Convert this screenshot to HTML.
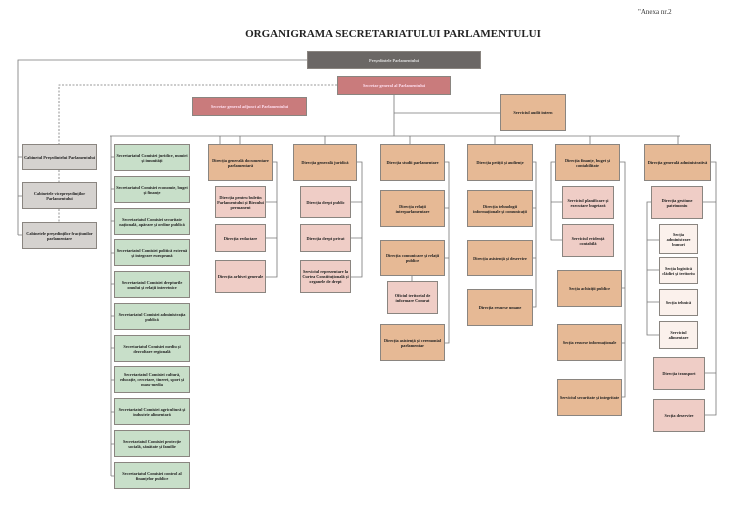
<!DOCTYPE html>
<html><head><meta charset="utf-8"><style>
body{margin:0;width:750px;height:505px;background:#fff;position:relative;overflow:hidden;font-family:"Liberation Serif",serif}
.b{position:absolute;box-sizing:border-box;border:1px solid #8a8580;display:flex;align-items:center;justify-content:center;text-align:center;font-size:4.3px;line-height:5px;color:#222;font-weight:bold;padding:1px}
.o{background:#e6b995}.p{background:#efcdc6}.l{background:#fbf1ec}.g{background:#c8dfc9}.y{background:#d5d2cf}.r{background:#c97b7c;color:#fde}
svg{position:absolute;left:0;top:0}
</style></head><body>
<div style="position:absolute;left:638px;top:8px;font-size:7px;color:#333">"Anexa nr.2</div>
<div style="position:absolute;left:0;width:786px;top:28px;text-align:center;font-size:11px;font-weight:bold;color:#222">ORGANIGRAMA SECRETARIATULUI PARLAMENTULUI</div>
<svg width="750" height="505" stroke="#777" stroke-width="0.8" fill="none">
<path d="M307 60H18V235M18 157H22M18 196H22M18 235H22"/>
<path d="M337 85H59V144M59 170V182M59 209V222" stroke-dasharray="2,1.5"/>
<path d="M394 95V136M394 113H500M110 136H680M111 136V476"/>
<path d="M111 157H114M111 189H114M111 221H114M111 253H114M111 284H114M111 316H114M111 348H114M111 380H114M111 412H114M111 444H114M111 476H114"/>
<path d="M240 136V144M325 136V144M410 136V144M495 136V144M590 136V144M678 136V144M220 136V144"/>
<path d="M273 162H277V277H266M277 202H266M277 238H266"/>
<path d="M357 162H362V277H351M362 202H351M362 238H351"/>
<path d="M445 162H449V343H445M449 208H445M449 258H445M412 276V281"/>
<path d="M533 162H536V307H533M536 208H533M536 258H533"/>
<path d="M555 162H551V240H562M551 202H562M620 162H625V397H620M625 288H620M625 343H620"/>
<path d="M711 162H716V415H705M716 373H705M716 202H703M651 202H647V335H659M647 240H659M647 270H659M647 302H659"/>
</svg>
<div class="b" style="left:307px;top:51px;width:174px;height:18px;background:#6b6765;color:#ddd">Președintele Parlamentului</div>
<div class="b r" style="left:337px;top:76px;width:114px;height:19px">Secretar general al Parlamentului</div>
<div class="b r" style="left:192px;top:97px;width:115px;height:19px">Secretar general adjunct al Parlamentului</div>
<div class="b o" style="left:500px;top:94px;width:66px;height:37px">Serviciul audit intern</div>

<div class="b y" style="left:22px;top:144px;width:75px;height:26px">Cabinetul Președintelui Parlamentului</div>
<div class="b y" style="left:22px;top:182px;width:75px;height:27px">Cabinetele vicepreședinților Parlamentului</div>
<div class="b y" style="left:22px;top:222px;width:75px;height:27px">Cabinetele președinților fracțiunilor parlamentare</div>

<div class="b g" style="left:114px;top:144px;width:76px;height:27px">Secretariatul Comisiei juridice, numiri și imunități</div>
<div class="b g" style="left:114px;top:176px;width:76px;height:27px">Secretariatul Comisiei economie, buget și finanțe</div>
<div class="b g" style="left:114px;top:208px;width:76px;height:27px">Secretariatul Comisiei securitate națională, apărare și ordine publică</div>
<div class="b g" style="left:114px;top:239px;width:76px;height:27px">Secretariatul Comisiei politică externă și integrare europeană</div>
<div class="b g" style="left:114px;top:271px;width:76px;height:27px">Secretariatul Comisiei drepturile omului și relații interetnice</div>
<div class="b g" style="left:114px;top:303px;width:76px;height:27px">Secretariatul Comisiei administrația publică</div>
<div class="b g" style="left:114px;top:335px;width:76px;height:27px">Secretariatul Comisiei mediu și dezvoltare regională</div>
<div class="b g" style="left:114px;top:366px;width:76px;height:27px">Secretariatul Comisiei cultură, educație, cercetare, tineret, sport și mass-media</div>
<div class="b g" style="left:114px;top:398px;width:76px;height:27px">Secretariatul Comisiei agricultură și industrie alimentară</div>
<div class="b g" style="left:114px;top:430px;width:76px;height:27px">Secretariatul Comisiei protecție socială, sănătate și familie</div>
<div class="b g" style="left:114px;top:462px;width:76px;height:27px">Secretariatul Comisiei control al finanțelor publice</div>

<div class="b o" style="left:208px;top:144px;width:65px;height:37px">Direcția generală documentare parlamentară</div>
<div class="b p" style="left:215px;top:186px;width:51px;height:32px">Direcția pentru buletin Parlamentului și Biroului permanent</div>
<div class="b p" style="left:215px;top:224px;width:51px;height:28px">Direcția redactare</div>
<div class="b p" style="left:215px;top:260px;width:51px;height:33px">Direcția arhivei generale</div>

<div class="b o" style="left:293px;top:144px;width:64px;height:37px">Direcția generală juridică</div>
<div class="b p" style="left:300px;top:186px;width:51px;height:32px">Direcția drept public</div>
<div class="b p" style="left:300px;top:224px;width:51px;height:28px">Direcția drept privat</div>
<div class="b p" style="left:300px;top:260px;width:51px;height:33px">Serviciul reprezentare la Curtea Constituțională și organele de drept</div>

<div class="b o" style="left:380px;top:144px;width:65px;height:37px">Direcția studii parlamentare</div>
<div class="b o" style="left:380px;top:190px;width:65px;height:37px">Direcția relații interparlamentare</div>
<div class="b o" style="left:380px;top:240px;width:65px;height:36px">Direcția comunicare și relații publice</div>
<div class="b p" style="left:387px;top:281px;width:51px;height:33px">Oficiul teritorial de informare Comrat</div>
<div class="b o" style="left:380px;top:324px;width:65px;height:37px">Direcția asistență și ceremonial parlamentar</div>

<div class="b o" style="left:467px;top:144px;width:66px;height:37px">Direcția petiții și audiențe</div>
<div class="b o" style="left:467px;top:190px;width:66px;height:37px">Direcția tehnologii informaționale și comunicații</div>
<div class="b o" style="left:467px;top:240px;width:66px;height:36px">Direcția asistență și deservire</div>
<div class="b o" style="left:467px;top:289px;width:66px;height:37px">Direcția resurse umane</div>

<div class="b o" style="left:555px;top:144px;width:65px;height:37px">Direcția finanțe, buget și contabilitate</div>
<div class="b p" style="left:562px;top:186px;width:52px;height:33px">Serviciul planificare și executare bugetară</div>
<div class="b p" style="left:562px;top:224px;width:52px;height:33px">Serviciul evidență contabilă</div>
<div class="b o" style="left:557px;top:270px;width:65px;height:37px">Secția achiziții publice</div>
<div class="b o" style="left:557px;top:324px;width:65px;height:37px">Secția resurse informaționale</div>
<div class="b o" style="left:557px;top:379px;width:65px;height:37px">Serviciul securitate și integritate</div>

<div class="b o" style="left:644px;top:144px;width:67px;height:37px">Direcția generală administrativă</div>
<div class="b p" style="left:651px;top:186px;width:52px;height:33px">Direcția gestiune patrimoniu</div>
<div class="b l" style="left:659px;top:224px;width:39px;height:30px">Secția administrare bunuri</div>
<div class="b l" style="left:659px;top:257px;width:39px;height:27px">Secția logistică clădiri și teritoriu</div>
<div class="b l" style="left:659px;top:289px;width:39px;height:27px">Secția tehnică</div>
<div class="b l" style="left:659px;top:321px;width:39px;height:28px">Serviciul alimentare</div>
<div class="b p" style="left:653px;top:357px;width:52px;height:33px">Direcția transport</div>
<div class="b p" style="left:653px;top:399px;width:52px;height:33px">Secția deservire</div>
</body></html>
